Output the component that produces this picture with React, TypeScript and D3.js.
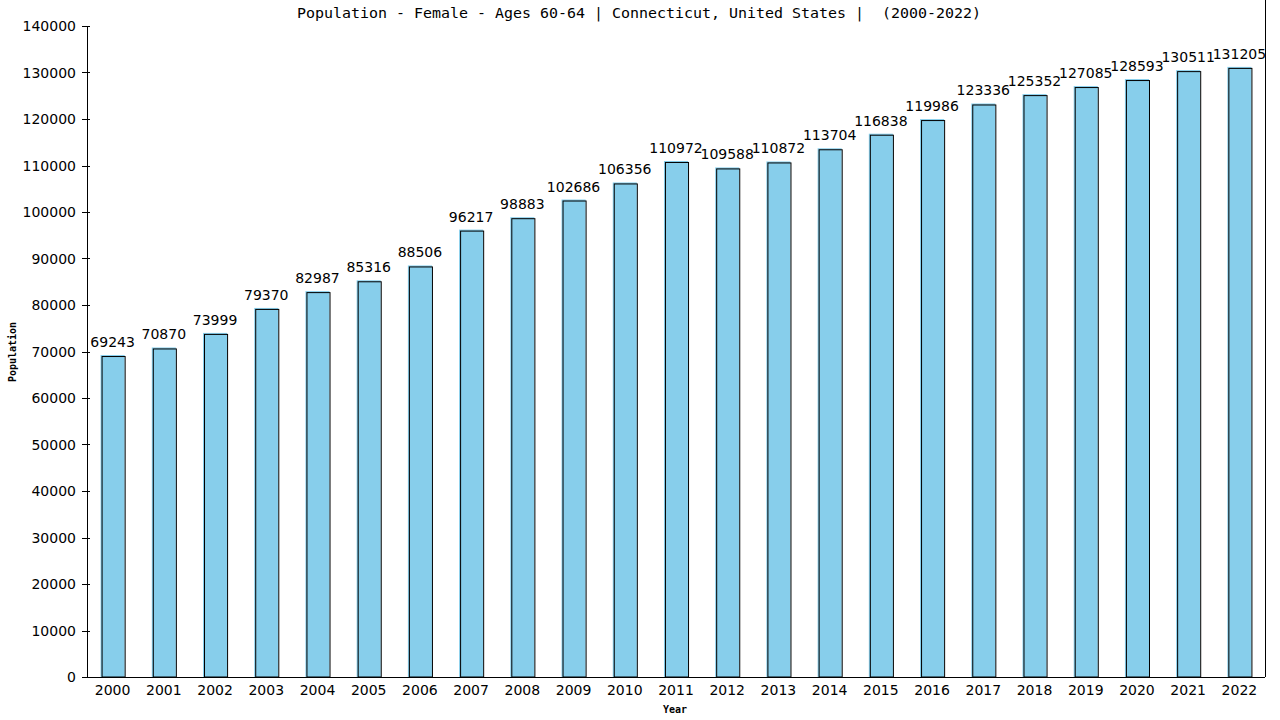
import React from 'react';
import * as d3 from 'd3';

const years = [
  '2000', '2001', '2002', '2003', '2004', '2005', '2006', '2007', '2008', '2009', '2010', '2011',
  '2012', '2013', '2014', '2015', '2016', '2017', '2018', '2019', '2020', '2021', '2022',
];
const population = [
  69243, 70870, 73999, 79370, 82987, 85316, 88506, 96217, 98883, 102686, 106356, 110972,
  109588, 110872, 113704, 116838, 119986, 123336, 125352, 127085, 128593, 130511, 131205,
];
const yTicks = d3.range(0, 140001, 10000);

const title = 'Population - Female - Ages 60-64 | Connecticut, United States |  (2000-2022)';

const App = () => {
  const width = 1280;
  const height = 720;
  const margin = { top: 26, right: 15, bottom: 43, left: 87 };

  const x = d3
    .scaleBand()
    .domain(years)
    .range([margin.left, width - margin.right])
    .paddingInner(0.53)
    .paddingOuter(0.265);
  const y = d3.scaleLinear().domain([0, 140000]).range([height - margin.bottom, margin.top]);

  const bw = x.bandwidth();
  const mono = '"DejaVu Sans Mono", monospace';
  const sans = '"DejaVu Sans", sans-serif';

  return (
    <svg
      width={width}
      height={height}
      style={{ position: 'absolute', left: 0, top: 0, background: '#fff' }}
    >
      <text
        x={297}
        y={18}
        textLength={684}
        lengthAdjust="spacingAndGlyphs"
        fontFamily={mono}
        fontSize={14}
        fill="#000"
        style={{ whiteSpace: 'pre' }}
      >
        {title}
      </text>

      {/* bars */}
      {population.map((v, i) => {
        const bx = x(years[i])!;
        const by = y(v);
        const bh = y(0) - by;
        return (
          <g key={years[i]}>
            <rect x={bx} y={by} width={bw} height={bh} fill="#87ceeb" />
            <rect
              x={bx + 1.5}
              y={by + 1.5}
              width={bw - 1}
              height={bh - 1.5}
              fill="none"
              stroke="#000"
              strokeWidth={1}
            />
            <text
              x={bx + bw / 2}
              y={by - 8}
              textAnchor="middle"
              fontFamily={sans}
              fontSize={14}
              fill="#000"
            >
              {v}
            </text>
          </g>
        );
      })}

      {/* y axis */}
      <line x1={margin.left + 0.5} x2={margin.left + 0.5} y1={margin.top} y2={y(0)} stroke="#000" />
      <line
        x1={width - margin.right + 0.5}
        x2={width - margin.right + 0.5}
        y1={margin.top - 26}
        y2={y(0)}
        stroke="#000"
      />
      {yTicks.map((t) => (
        <g key={t}>
          <line
            x1={margin.left - 5}
            x2={margin.left + 3}
            y1={Math.round(y(t)) + 0.5}
            y2={Math.round(y(t)) + 0.5}
            stroke="#000"
          />
          <text
            x={margin.left - 11}
            y={y(t) + 5}
            textAnchor="end"
            fontFamily={sans}
            fontSize={14}
            fill="#000"
          >
            {t}
          </text>
        </g>
      ))}

      {/* x axis */}
      <line
        x1={margin.left}
        x2={width - margin.right}
        y1={Math.round(y(0)) + 0.5}
        y2={Math.round(y(0)) + 0.5}
        stroke="#000"
      />
      {years.map((yr) => (
        <text
          key={yr}
          x={x(yr)! + bw / 2}
          y={y(0) + 18}
          textAnchor="middle"
          fontFamily={sans}
          fontSize={14}
          fill="#000"
        >
          {yr}
        </text>
      ))}

      <text
        x={675}
        y={713}
        textAnchor="middle"
        fontFamily={mono}
        fontSize={10}
        fontWeight="bold"
        fill="#000"
      >
        Year
      </text>
      <text
        transform={`translate(16,${352}) rotate(-90)`}
        textAnchor="middle"
        fontFamily={mono}
        fontSize={10}
        fontWeight="bold"
        fill="#000"
      >
        Population
      </text>
    </svg>
  );
};

export default App;
